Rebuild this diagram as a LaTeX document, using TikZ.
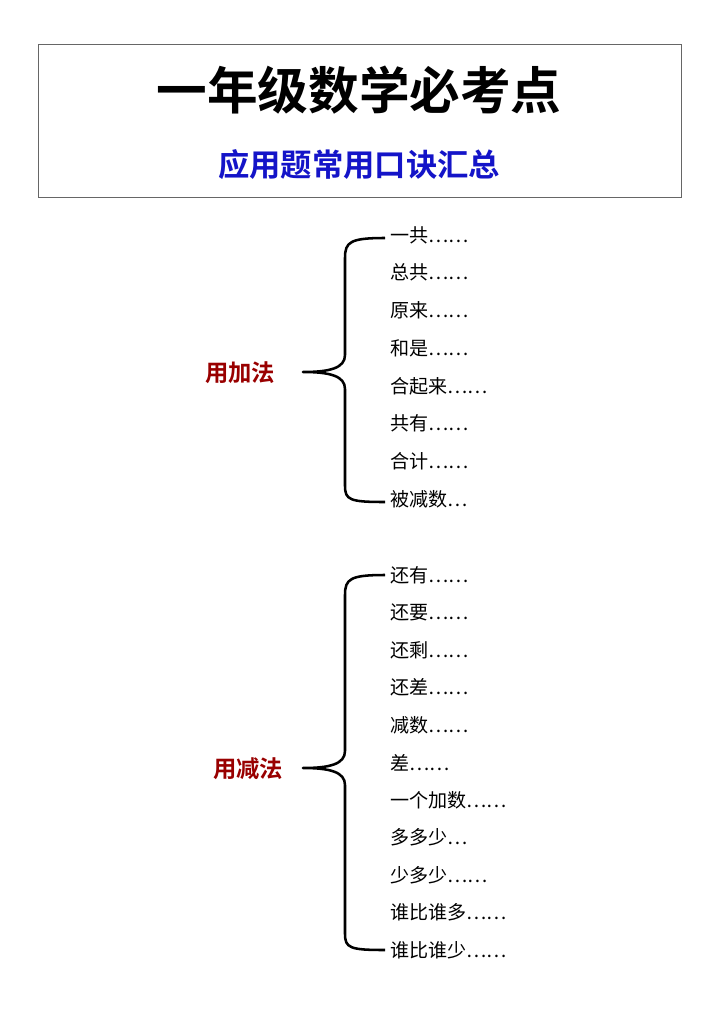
\documentclass[tikz,border=0pt]{standalone}
\usepackage{fontspec}
\setmainfont{Noto Sans CJK SC}[BoldFont=* Bold]
\begin{document}
\begin{tikzpicture}[x=0.75pt,y=-0.75pt,
  item/.style={anchor=west,inner sep=0pt,font=\fontsize{14.3}{15}\selectfont},
  lab/.style={inner sep=0pt,font=\fontsize{17.5}{18}\selectfont\bfseries,text=red!60!black},
  brace/.style={line width=1.9pt,line join=round}]
\useasboundingbox (0,0) rectangle (719,1018);
\node[draw=black!60,line width=0.6pt,minimum width=643*0.75pt,minimum height=153*0.75pt,anchor=north west,inner sep=0pt] (box) at (38,44) {};
\node[inner sep=0pt,font=\fontsize{38}{40}\selectfont\bfseries] (title) at (359,90) {一年级数学必考点};
\node[inner sep=0pt,font=\fontsize{23.5}{24}\selectfont\bfseries,text={rgb,255:red,20;green,20;blue,200}] (sub) at (359,165) {应用题常用口诀汇总};
% brace 1
\draw[brace] (385,238) .. controls (350,238) and (345,242) .. (345,258) -- (345,355) .. controls (345,368) and (330,372) .. (303,372)
  .. controls (330,372) and (345,376) .. (345,389) -- (345,486) .. controls (345,500) and (350,502) .. (385,502);
\node[lab] (add) at (240,373) {用加法};
\foreach \t [count=\i from 0] in {一共……,总共……,原来……,和是……,合起来……,共有……,合计……,被减数…}
  \node[item] (a\i) at (390,235+37.7*\i) {\t};
% brace 2
\draw[brace] (385,575) .. controls (350,575) and (345,579) .. (345,595) -- (345,751) .. controls (345,764) and (330,768) .. (303,768)
  .. controls (330,768) and (345,772) .. (345,785) -- (345,934) .. controls (345,948) and (350,950) .. (385,950);
\node[lab] (sub2) at (248,769) {用减法};
\foreach \t [count=\i from 0] in {还有……,还要……,还剩……,还差……,减数……,差……,一个加数……,多多少…,少多少……,谁比谁多……,谁比谁少……}
  \node[item] (s\i) at (390,575+37.5*\i) {\t};
\end{tikzpicture}
\end{document}
